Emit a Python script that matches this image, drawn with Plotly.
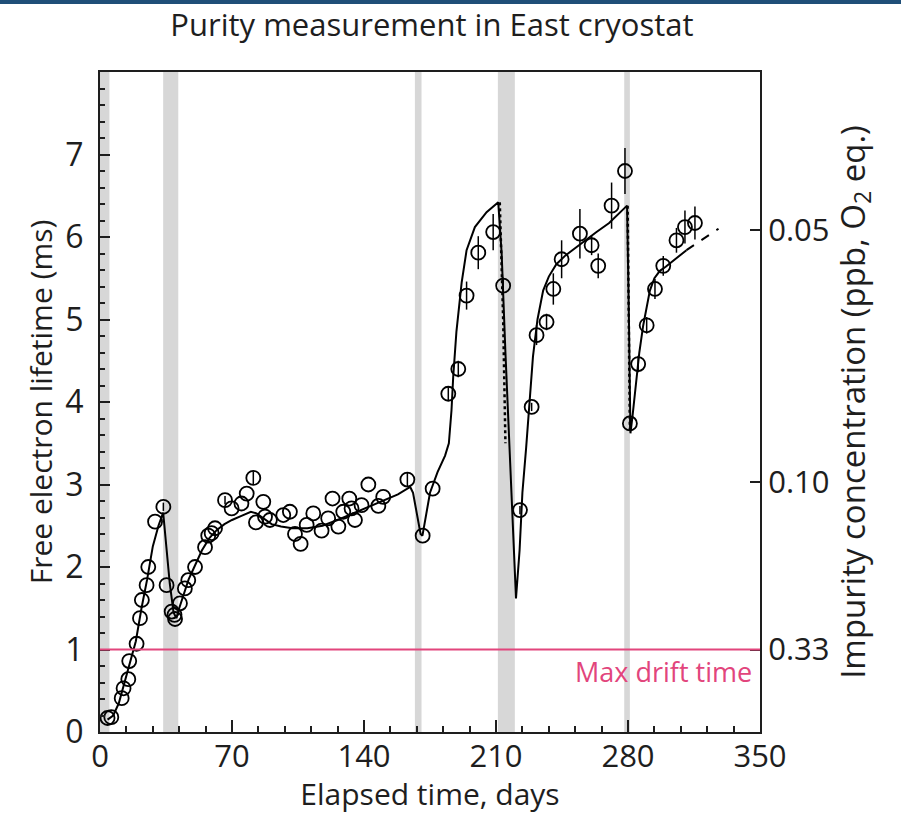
import plotly.graph_objects as go

# ---------------- data ----------------
days = [4, 6, 11.5, 12.5, 15, 15.5, 19.4, 21.2, 22.2, 24.7, 25.6, 29.2, 33.6, 35.3, 38, 39.8, 39.5,
        42.4, 45, 46.8, 50.4, 55.7, 57.4, 59.2, 61,
        66.3, 69.8, 75, 77.8, 81.3, 82.7, 86.6, 87.5, 90.1, 97.2, 100.7, 103.4, 106.4, 109.6, 113.1,
        117.5, 121, 123.3, 126.4, 129, 132.2, 133.4, 135.2, 138.7, 142.3, 147.6, 150.2, 163, 171.1, 176.4,
        184.7, 190, 194.4, 200.6, 208.5, 213.8, 222.7, 228.9, 231.5, 236.8, 240.4, 244.8, 254.5, 260.7,
        264.2, 271.3, 278.4, 281, 285.4, 289.9, 294.3, 298.7, 305.7, 310.2, 315.5]
lifetime = [0.17, 0.18, 0.41, 0.53, 0.64, 0.86, 1.07, 1.38, 1.6, 1.78, 2.0, 2.55, 2.73, 1.78, 1.46, 1.37, 1.42,
            1.56, 1.74, 1.84, 2.0, 2.24, 2.38, 2.41, 2.47,
            2.81, 2.71, 2.77, 2.89, 3.08, 2.54, 2.79, 2.61, 2.57, 2.63, 2.67, 2.40, 2.28, 2.51, 2.65,
            2.44, 2.59, 2.83, 2.49, 2.67, 2.83, 2.71, 2.57, 2.75, 3.0, 2.74, 2.85, 3.06, 2.38, 2.95,
            4.1, 4.4, 5.29, 5.81, 6.06, 5.41, 2.69, 3.94, 4.81, 4.97, 5.37, 5.73, 6.04, 5.9,
            5.65, 6.38, 6.8, 3.74, 4.46, 4.93, 5.37, 5.65, 5.96, 6.12, 6.17]
lifetime_err = [0, 0, 0, 0, 0, 0, 0, 0, 0, 0, 0, 0, 0.05, 0, 0, 0, 0,
                0, 0, 0, 0, 0, 0, 0, 0,
                0.05, 0, 0, 0, 0.08, 0, 0, 0, 0, 0, 0, 0, 0, 0, 0,
                0, 0, 0, 0, 0, 0, 0, 0, 0, 0, 0, 0, 0.08, 0, 0,
                0.08, 0.1, 0.17, 0.2, 0.22, 0.1, 0.05, 0.05, 0.12, 0.1, 0.19, 0.23, 0.3, 0.12,
                0.15, 0.28, 0.28, 0.08, 0.1, 0.1, 0.12, 0.12, 0.15, 0.2, 0.2]

fit_days = [4, 7, 10, 13, 16, 19, 22, 25, 28, 31, 33.5, 35, 37, 39, 40.5, 42, 44, 47, 50, 54, 58, 62, 66,
            70, 75, 80, 83, 87, 91, 96, 102, 110, 118, 126, 134, 142, 150, 158, 164.5, 166, 168, 170, 171,
            173, 175, 179, 183, 185, 186.4, 187.3, 189, 191.8, 194.4, 198.8, 205, 211.2, 213, 215, 217,
            219, 220.6, 222.5, 224, 226, 228, 229.6, 232, 235, 238, 242, 247, 252.7, 258, 263.3, 270, 275,
            279.5, 280.5, 281.3, 282.5, 284.5, 286, 288, 291.6, 294, 296.9, 300, 303.8, 307, 311]
fit_lifetime = [0.15, 0.2, 0.35, 0.6, 0.85, 1.1, 1.5, 1.85, 2.25, 2.5, 2.66, 2.3, 1.8, 1.45, 1.38, 1.5,
                1.65, 1.85, 2.0, 2.2, 2.35, 2.45, 2.52, 2.57, 2.62, 2.67, 2.65, 2.58, 2.52, 2.49, 2.47,
                2.47, 2.5, 2.57, 2.65, 2.72, 2.8, 2.88, 2.97, 2.9, 2.65, 2.4, 2.38, 2.65, 2.9, 3.15, 3.35,
                3.5, 3.9, 4.3, 4.85, 5.45, 5.84, 6.12, 6.3, 6.42, 5.8, 4.6, 3.5, 2.4, 1.62, 2.2, 2.9,
                3.45, 4.0, 4.55, 5.0, 5.35, 5.52, 5.67, 5.78, 5.88, 5.97, 6.06, 6.17, 6.28, 6.38, 5.0,
                3.62, 3.85, 4.25, 4.6, 4.92, 5.35, 5.5, 5.59, 5.64, 5.71, 5.77, 5.84]

extrap_days = [311, 319, 328]
extrap_lifetime = [5.84, 5.96, 6.1]

drop_days = [212, 213.8, 215, None, 279.8, 280.4, 281]
drop_lifetime = [6.42, 5.0, 3.5, None, 6.38, 5.0, 3.65]

band_start = [0, 33.5, 167, 211, 278]
band_end = [5, 41.5, 170.5, 220, 281]

x_ticks = [0, 70, 140, 210, 280, 350]
y_ticks = [0, 1, 2, 3, 4, 5, 6, 7]
impurity_pos = [1, 3.03, 6.08]
impurity_labels = ["0.33", "0.10", "0.05"]
max_drift = 1.0

FONT = "Open Sans"
INK = "#1e1e1e"
PINK = "#e2457c"

fig = go.Figure()

fig.add_trace(go.Scatter(x=fit_days, y=fit_lifetime, mode="lines",
                         line=dict(color="black", width=2), showlegend=False))
fig.add_trace(go.Scatter(x=extrap_days, y=extrap_lifetime, mode="lines",
                         line=dict(color="black", width=2, dash="dash"), showlegend=False))
fig.add_trace(go.Scatter(x=drop_days, y=drop_lifetime, mode="lines",
                         line=dict(color="black", width=2.5, dash="dot"), showlegend=False))
fig.add_trace(go.Scatter(x=days, y=lifetime, mode="markers",
                         marker=dict(symbol="circle-open", size=14, color="black",
                                     line=dict(width=1.8, color="black")),
                         error_y=dict(type="data", array=lifetime_err, visible=True,
                                      color="black", thickness=1.5, width=0),
                         showlegend=False))
# right-hand axis carrier
fig.add_trace(go.Scatter(x=[0], y=[0], yaxis="y2", mode="markers",
                         marker=dict(size=1, opacity=0), showlegend=False, hoverinfo="skip"))

for s, e in zip(band_start, band_end):
    fig.add_vrect(x0=s, x1=e, fillcolor="rgba(140,140,140,0.35)", line_width=0, layer="below")

fig.add_shape(type="line", xref="x", yref="y", x0=0, x1=350, y0=max_drift, y1=max_drift,
              line=dict(color=PINK, width=2), layer="above")
fig.add_annotation(x=350, y=max_drift, xref="x", yref="y", text="Max drift time",
                   showarrow=False, xanchor="right", yanchor="top", xshift=-6, yshift=-1,
                   font=dict(family=FONT, size=27, color=PINK))

# top blue bar
fig.add_shape(type="rect", xref="paper", yref="paper", x0=-0.2, x1=1.3,
              y0=1 + 68 / 660, y1=1 + 72 / 660, fillcolor="#1f4f78", line_width=0)

fig.update_layout(
    width=901, height=814,
    margin=dict(l=100, r=141, t=72, b=82),
    paper_bgcolor="white", plot_bgcolor="white",
    font=dict(family=FONT, color=INK),
    title=dict(text="Purity measurement in East cryostat", x=0.503, xref="paper",
               y=1 - 25 / 814, yanchor="middle", font=dict(family=FONT, size=31, color=INK)),
    xaxis=dict(range=[0, 350], tickvals=x_ticks, ticks="inside", ticklen=12, tickwidth=1.5,
               tickcolor=INK, showline=True, linewidth=2, linecolor=INK, mirror=True,
               showgrid=False, zeroline=False, ticklabelstandoff=-4,
               minor=dict(dtick=14, ticks="inside", ticklen=6, tickcolor=INK, tickwidth=1.5),
               tickfont=dict(size=31, color=INK),
               title=dict(text="Elapsed time, days", font=dict(size=30, color=INK), standoff=2)),
    yaxis=dict(range=[0, 8], tickvals=y_ticks, ticks="inside", ticklen=10, tickwidth=1.5,
               tickcolor=INK, showline=True, linewidth=2, linecolor=INK,
               showgrid=False, zeroline=False, ticklabelstandoff=8,
               minor=dict(dtick=0.2, ticks="inside", ticklen=5, tickcolor=INK, tickwidth=1.5),
               tickfont=dict(size=32, color=INK),
               title=dict(text="Free electron lifetime (ms)", font=dict(size=30, color=INK), standoff=4)),
    yaxis2=dict(range=[0, 8], overlaying="y", side="right", tickvals=impurity_pos,
                ticktext=impurity_labels, ticks="inside", ticklen=10, tickwidth=1.5, tickcolor=INK,
                showline=True, linewidth=2, linecolor=INK, showgrid=False, zeroline=False,
                tickfont=dict(size=31, color=INK),
                title=dict(text="Impurity concentration (ppb, O<sub>2</sub> eq.)",
                           font=dict(size=33, color=INK), standoff=8)),
)

fig.write_html("out.html", config={"displayModeBar": False},
               post_script="document.body.style.margin='0px';")
